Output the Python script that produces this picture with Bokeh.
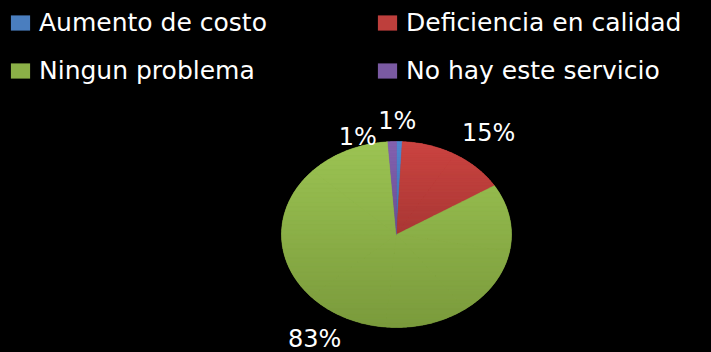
import numpy as np
from bokeh.plotting import figure
from bokeh.models import Range1d, Legend, LegendItem, ColumnDataSource
from bokeh.embed import file_html
from bokeh.resources import INLINE
from bokeh.core.properties import value

# ---- data ----
categories = ["Aumento de costo", "Deficiencia en calidad", "Ningun problema", "No hay este servicio"]
shares = [0.8, 15.4, 82.6, 1.2]
colors = ["#4A7EBF", "#BE3F3C", "#8BB047", "#7A5AA2"]
colors_top = ["#5089D0", "#CC4441", "#9CC453", "#8462B0"]
colors_bottom = ["#3A6CAE", "#A93835", "#7A9A3C", "#6A4E92"]

# ---- layout / style ----
W, H = 711, 352
CX, CY = 396, 234          # pie centre (px from top-left of figure)
RX, RY = 115, 93           # stretched pie radii in px
label_r = 1.3
label_dx = [-3, 16, -14, -33]
label_dy = [7, 3, -3, 23]
FONT = "DejaVu Sans"
N_BANDS = 40
MAX_SUB = np.pi / 4        # convex sub-wedges for the shading bands

p = figure(width=W, height=H, output_backend="svg", toolbar_location=None,
           x_range=Range1d(-CX / RX, (W - CX) / RX),
           y_range=Range1d(-(H - CY) / RY, CY / RY),
           x_axis_type=None, y_axis_type=None,
           background_fill_color="black", border_fill_color="black",
           min_border=0, outline_line_color=None)
p.grid.visible = False

total = float(sum(shares))
cum = np.concatenate([[0.0], np.cumsum(shares)]) / total * 2 * np.pi


def wedge(a0, a1):
    t = np.linspace(a0, a1, max(4, int((a1 - a0) / 0.01)))
    return (np.concatenate([[0.0], np.sin(t), [0.0]]),
            np.concatenate([[0.0], np.cos(t), [0.0]]))


xs, ys, mids = [], [], []
for a0, a1 in zip(cum[:-1], cum[1:]):
    wx, wy = wedge(a0, a1)
    xs.append(wx)
    ys.append(wy)
    mids.append((a0 + a1) / 2)

src = ColumnDataSource(dict(xs=xs, ys=ys, color=colors, label=categories))
r = p.patches("xs", "ys", fill_color="color", line_color=None, source=src)


# vertical gradient shading: clip convex sub-wedges into horizontal bands
def clip_half(pts, yb, keep_above):
    out = []
    n = len(pts)
    for i in range(n):
        cx_, cy_ = pts[i]
        px_, py_ = pts[i - 1]
        cin = (cy_ >= yb) if keep_above else (cy_ <= yb)
        pin = (py_ >= yb) if keep_above else (py_ <= yb)
        if cin:
            if not pin:
                f = (yb - py_) / (cy_ - py_)
                out.append((px_ + f * (cx_ - px_), yb))
            out.append((cx_, cy_))
        elif pin:
            f = (yb - py_) / (cy_ - py_)
            out.append((px_ + f * (cx_ - px_), yb))
    return out


def hex_rgb(h):
    return np.array([int(h[i:i + 2], 16) for i in (1, 3, 5)], dtype=float)


bx, by, bc = [], [], []
for k in range(len(shares)):
    a0, a1 = cum[k], cum[k + 1]
    ymin, ymax = float(np.min(ys[k])), float(np.max(ys[k]))
    edges = np.linspace(ymax, ymin, N_BANDS + 1)
    ct, cb = hex_rgb(colors_top[k]), hex_rgb(colors_bottom[k])
    nsub = int(np.ceil((a1 - a0) / MAX_SUB))
    subs = np.linspace(a0, a1, nsub + 1)
    for s0, s1 in zip(subs[:-1], subs[1:]):
        wx, wy = wedge(s0, s1)
        pts = list(zip(wx, wy))
        for j in range(N_BANDS):
            y_hi, y_lo = edges[j], edges[j + 1]
            poly = clip_half(clip_half(pts, y_lo, True), y_hi, False)
            if len(poly) < 3:
                continue
            f = (j + 0.5) / N_BANDS
            c = ct * (1 - f) + cb * f
            col = "#%02x%02x%02x" % tuple(int(round(v)) for v in c)
            bx.append([q[0] for q in poly])
            by.append([q[1] for q in poly])
            bc.append(col)

p.patches(bx, by, fill_color=bc, line_color=bc, line_width=0.5)

mids = np.array(mids)
lsrc = ColumnDataSource(dict(
    x=label_r * np.sin(mids), y=label_r * np.cos(mids),
    text=[f"{round(v / total * 100)}%" for v in shares],
    dx=label_dx, dy=label_dy))
p.text("x", "y", text="text", x_offset="dx", y_offset="dy", source=lsrc,
       text_align="center", text_baseline="middle", text_color="white",
       text_font=value(FONT), text_font_size="24px")


def make_legend(idx, loc):
    lg = Legend(items=[LegendItem(label=categories[i], renderers=[r], index=i) for i in idx],
                location=loc, orientation="vertical")
    lg.label_text_font = FONT
    lg.label_text_font_size = "25px"
    lg.label_text_color = "white"
    lg.label_height = 28
    lg.glyph_width = 24
    lg.glyph_height = 19
    lg.label_standoff = 7
    lg.spacing = 19
    lg.padding = 0
    lg.margin = 0
    lg.background_fill_alpha = 0
    lg.border_line_color = None
    return lg


p.add_layout(make_legend([0, 2], (8, 267)))
p.add_layout(make_legend([1, 3], (375, 267)))

html = file_html(p, INLINE)
html = html.replace("</head>", "<style>html,body{background:#000000;}</style></head>", 1)
open("out.html", "w").write(html)
